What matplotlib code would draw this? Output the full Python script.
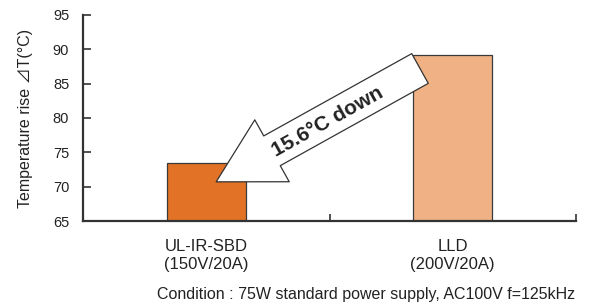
import matplotlib.pyplot as plt
from matplotlib.ticker import FixedLocator

plt.rcParams['font.family'] = ['Liberation Sans', 'Noto Sans CJK JP', 'DejaVu Sans']

categories = ['UL-IR-SBD\n(150V/20A)', 'LLD\n(200V/20A)']
values = [73.5, 89.1]
colors = ['#E27326', '#F0B284']
drop_label = '15.6°C down'
ylabel = 'Temperature rise ⊿T(°C)'
condition = 'Condition : 75W standard power supply, AC100V f=125kHz'

fig = plt.figure(figsize=(5.89, 3.04), dpi=100)
ax = fig.add_axes([0.141, 0.273, 0.837, 0.678])

x = range(len(categories))
ax.bar(x, [v - 65 for v in values], bottom=65, width=0.32, color=colors,
       edgecolor='#3a3a3a', linewidth=0.9, zorder=2)

ax.set_xlim(-0.5, 1.5)
ax.set_ylim(65, 95)
ax.set_yticks(range(65, 96, 5))
ax.set_xticks(list(x))
ax.set_xticklabels(categories, fontsize=12, color='#222222', linespacing=1.25)
ax.xaxis.set_minor_locator(FixedLocator([0.5, 1.5]))
ax.tick_params(axis='x', which='major', length=0, pad=13)
ax.tick_params(axis='x', which='minor', direction='in', length=5, width=1.2, color='#333333')
ax.tick_params(axis='y', direction='in', length=6, width=1.2, color='#333333',
               labelsize=10.5, labelcolor='#222222', pad=10)
for s in ['top', 'right']:
    ax.spines[s].set_visible(False)
for s in ['left', 'bottom']:
    ax.spines[s].set_linewidth(1.6)
    ax.spines[s].set_color('#333333')

ax.set_ylabel(ylabel, fontsize=11.5, color='#222222', labelpad=14)

# block arrow from LLD bar toward UL-IR-SBD bar
ax.annotate('', xy=(0.04, 70.7), xytext=(0.867, 87.2),
            arrowprops=dict(arrowstyle='simple,head_length=4.6,head_width=5.1,tail_width=2.45',
                            mutation_scale=10, facecolor='white', edgecolor='#333333',
                            linewidth=0.9, shrinkA=0, shrinkB=0),
            zorder=3)
ax.text(0.492, 79.5, drop_label, fontsize=15, fontweight='bold', color='#222222',
        rotation=29.2, rotation_mode='anchor', ha='center', va='center', zorder=4)

fig.text(0.977, 0.008, condition, ha='right', va='bottom', fontsize=11.5, color='#222222')

fig.savefig('out.png', dpi=100)
